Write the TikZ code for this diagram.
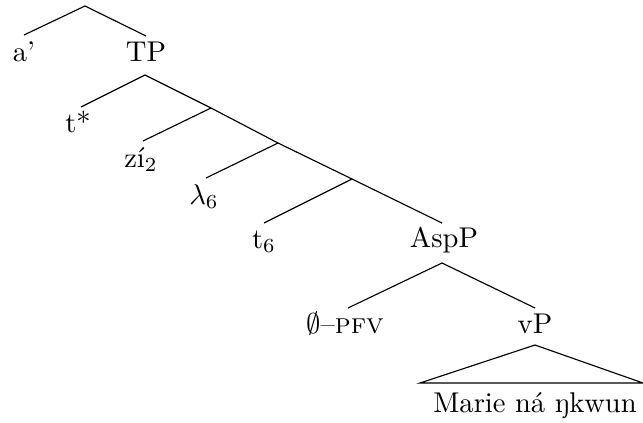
\documentclass[tikz,border=0pt]{standalone}
\begin{document}
\begin{tikzpicture}[x=0.35pt,y=-0.35pt,
  lbl/.style={anchor=base,inner sep=0pt,outer sep=0pt},
  edge/.style={line width=0.4pt}]
\useasboundingbox (0,0) rectangle (643,422);
% labels
\node[lbl] (a) at (24,62) {a’};
\node[lbl] (tp) at (146,62) {TP};
\node[lbl] (ts) at (78,132) {t*};
\node[lbl] (zi) at (141,167) {zí$_2$};
\node[lbl] (lam) at (204,204) {$\lambda_6$};
\node[lbl] (t6) at (264,248) {t$_6$};
\node[lbl] (asp) at (444,247) {AspP};
\node[lbl] (pfv) at (345,333) {$\emptyset$–\textsc{pfv}};
\node[lbl] (vp) at (535,333) {vP};
\node[lbl] (mk) at (535,412) {Marie ná ŋkwun};
% branch coordinates
\coordinate (r) at (85,6);
\coordinate (ra) at (24,35);
\coordinate (rt) at (146,36);
\coordinate (tpb) at (145,75);
\coordinate (tse) at (81,107);
\coordinate (b1) at (211,108);
\coordinate (zie) at (143,141);
\coordinate (b2) at (278,143);
\coordinate (lame) at (206,178);
\coordinate (b3) at (352,179);
\coordinate (t6e) at (264,223);
\coordinate (aspt) at (442,223);
\coordinate (aspb) at (442,263);
\coordinate (pfve) at (348,308);
\coordinate (vpt) at (535,308);
\coordinate (vpb) at (535,345);
\coordinate (tl) at (420,383);
\coordinate (tr) at (643,383);
% edges
\draw[edge] (ra) -- (r) -- (rt);
\draw[edge] (tse) -- (tpb) -- (b1) -- (b2) -- (b3) -- (aspt);
\draw[edge] (b1) -- (zie);
\draw[edge] (b2) -- (lame);
\draw[edge] (b3) -- (t6e);
\draw[edge] (pfve) -- (aspb) -- (vpt);
\draw[edge] (vpb) -- (tl) -- (tr) -- cycle;
\end{tikzpicture}
\end{document}
